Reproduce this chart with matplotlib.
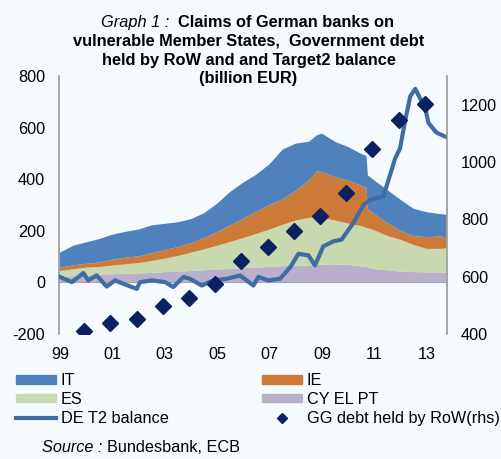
import matplotlib.pyplot as plt
from matplotlib.lines import Line2D
from matplotlib.patches import Patch

plt.rcParams['font.family'] = ['Liberation Sans', 'DejaVu Sans']
plt.rcParams['axes.unicode_minus'] = False

# Stacked claims of German banks (billion EUR)
years = [1999.0, 1999.5, 2000.0, 2000.5, 2001.0, 2001.5, 2002.0, 2002.5, 2003.0, 2003.5,
         2004.0, 2004.5, 2005.0, 2005.5, 2006.0, 2006.5, 2007.0, 2007.5, 2008.0, 2008.5,
         2008.8, 2009.0, 2009.5, 2010.0, 2010.5, 2010.7, 2010.75, 2011.0, 2011.5, 2012.0,
         2012.5, 2013.0, 2013.5, 2013.75]
cy_el_pt = [20, 24, 27, 30, 32, 34, 35, 37, 40, 42, 44, 47, 50, 52, 55, 58, 60, 63, 65, 66,
            68, 69, 70, 68, 62, 60, 58, 52, 47, 42, 40, 39, 39, 38]
es = [24, 27, 30, 30, 33, 36, 40, 46, 52, 60, 71, 81, 92, 105, 117, 130, 145, 160, 175, 184,
      184, 181, 170, 160, 156, 152, 152, 150, 133, 123, 105, 91, 91, 94]
ie = [13, 15, 15, 17, 23, 26, 26, 30, 33, 35, 37, 44, 53, 64, 75, 86, 95, 99, 115, 145,
      178, 178, 168, 167, 157, 153, 75, 63, 50, 35, 35, 45, 48, 43]
it = [58, 76, 83, 91, 97, 100, 104, 108, 102, 96, 93, 96, 110, 130, 140, 144, 158, 193, 183, 150,
      140, 149, 137, 130, 123, 125, 130, 130, 128, 120, 105, 97, 87, 87]

# DE Target2 balance (lhs)
t2_years = [1999.00, 1999.45, 1999.89, 2000.08, 2000.40, 2000.78, 2001.10, 2001.48, 2001.93,
            2002.05, 2002.50, 2003.01, 2003.32, 2003.71, 2003.96, 2004.41, 2004.85, 2005.36,
            2005.87, 2006.38, 2006.57, 2006.95, 2007.40, 2007.79, 2008.10, 2008.48, 2008.73,
            2009.05, 2009.43, 2009.75, 2010.19, 2010.58, 2010.83, 2011.34, 2011.53, 2011.79,
            2011.98, 2012.18, 2012.37, 2012.56, 2012.75, 2012.93, 2013.06, 2013.25, 2013.38,
            2013.76]
t2_balance = [21, 1, 36, 8, 27, -16, 8, -8, -25, 1, 8, 1, -18, 21, 14, -12, 8, 14, 27, -12,
              21, 8, 14, 59, 111, 105, 66, 140, 159, 166, 230, 300, 320, 333, 395, 480, 520,
              631, 722, 750, 712, 680, 619, 595, 580, 563]

# GG debt held by RoW (rhs), end of year
gg_years = [1999.92, 2000.92, 2001.92, 2002.92, 2003.92, 2004.92, 2005.92, 2006.92,
            2007.92, 2008.92, 2009.92, 2010.92, 2011.92, 2012.92]
gg_debt = [410, 440, 454, 496, 527, 574, 653, 703, 761, 810, 892, 1047, 1147, 1202]

xtick_years = [1999, 2001, 2003, 2005, 2007, 2009, 2011, 2013]
xtick_labels = ['99', '01', '03', '05', '07', '09', '11', '13']

bg = '#F5FAFE'
c_it = '#4F81BD'
c_ie = '#CD7A38'
c_es = '#C8D8AF'
c_cy = '#BBB0CC'
c_t2 = '#3F6DA3'
c_gg = '#0C2161'
fs = 11.7
fs_title = 11.8

fig = plt.figure(figsize=(5.02, 4.59), dpi=100, facecolor=bg)
ax = fig.add_axes([0.1175, 0.2723, 0.7729, 0.5621])
ax.set_facecolor(bg)

ax.axhline(0, color='#999999', lw=1.5, zorder=1)
ax.stackplot(years, cy_el_pt, es, ie, it, colors=[c_cy, c_es, c_ie, c_it], lw=0, zorder=2)
ax.plot(t2_years, t2_balance, color=c_t2, lw=3, zorder=3)

ax.set_xlim(1998.96, 2013.77)
ax.set_ylim(-200, 800)
ax.set_yticks([-200, 0, 200, 400, 600, 800])
ax.set_xticks(xtick_years)
ax.set_xticklabels(xtick_labels)
ax.tick_params(axis='both', length=0, labelsize=fs)
ax.tick_params(axis='y', pad=10)
ax.tick_params(axis='x', pad=9)
for s in ['top', 'bottom', 'right']:
    ax.spines[s].set_visible(False)
ax.spines['left'].set_color('#999999')
ax.spines['left'].set_linewidth(1.2)

ax2 = ax.twinx()
ax2.plot(gg_years, gg_debt, 'D', color=c_gg, ms=8, zorder=4)
ax2.set_ylim(400, 1300)
ax2.set_yticks([400, 600, 800, 1000, 1200])
ax2.tick_params(axis='y', length=0, labelsize=fs, pad=10)
for s in ['top', 'bottom', 'left']:
    ax2.spines[s].set_visible(False)
ax2.spines['right'].set_color('#999999')
ax2.spines['right'].set_linewidth(1.2)

# title
fig.text(101 / 502, 0.952, 'Graph 1 :', style='italic', fontsize=fs_title, ha='left', va='center')
fig.text(178 / 502, 0.952, 'Claims of German banks on', fontweight='bold', fontsize=fs_title,
         ha='left', va='center')
fig.text(0.495, 0.911, 'vulnerable Member States,  Government debt', fontweight='bold',
         fontsize=fs_title, ha='center', va='center')
fig.text(0.495, 0.869, 'held by RoW and and Target2 balance', fontweight='bold',
         fontsize=fs_title, ha='center', va='center')
fig.text(0.495, 0.828, '(billion EUR)', fontweight='bold', fontsize=fs_title,
         ha='center', va='center')

# legend
left_handles = [Patch(color=c_it), Patch(color=c_es), Line2D([], [], color=c_t2, lw=3)]
right_handles = [Patch(color=c_ie), Patch(color=c_cy),
                 Line2D([], [], ls='none', marker='D', color=c_gg, ms=5)]
leg_kw = dict(frameon=False, fontsize=fs, handlelength=2.46, handleheight=0.45,
              handletextpad=0.3, labelspacing=0.24, borderpad=0, borderaxespad=0)
fig.legend(left_handles, ['IT', 'ES', 'DE T2 balance'], loc='upper left',
           bbox_to_anchor=(16 / 502, 1 - 373 / 459), **leg_kw)
fig.legend(right_handles, ['IE', 'CY EL PT', 'GG debt held by RoW(rhs)'], loc='upper left',
           bbox_to_anchor=(262 / 502, 1 - 373 / 459), **leg_kw)

fig.text(42 / 502, 1 - 447 / 459, 'Source :', style='italic', fontsize=fs, ha='left', va='center')
fig.text(107 / 502, 1 - 447 / 459, 'Bundesbank, ECB', fontsize=fs, ha='left', va='center')

fig.savefig('out.png', dpi=100, facecolor=bg)
